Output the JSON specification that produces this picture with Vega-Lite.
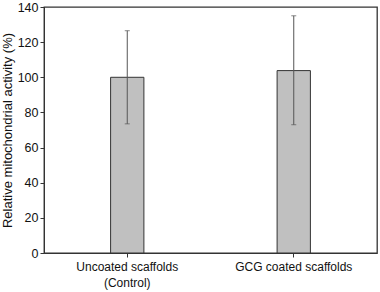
{
  "$schema": "https://vega.github.io/schema/vega-lite/v6.json",
  "width": 333,
  "height": 246,
  "autosize": {"type": "none"},
  "padding": {"left": 44, "top": 7, "right": 3, "bottom": 39},
  "background": "white",
  "config": {
    "view": {"stroke": "#333", "strokeWidth": 1.3},
    "font": "Liberation Sans",
    "axis": {"grid": false, "domainColor": "#333", "tickColor": "#333", "labelColor": "#111", "titleColor": "#111", "labelFont": "Liberation Sans", "titleFont": "Liberation Sans"},
    "axisY": {
      "titleFontSize": 13,
      "titleFontWeight": "normal",
      "titlePadding": 3,
      "labelFontSize": 12.5,
      "labelPadding": 2,
      "labelOverlap": false,
      "labelFlush": false,
      "labelBound": false,
      "values": [0, 10, 20, 30, 40, 50, 60, 70, 80, 90, 100, 110, 120, 130, 140],
      "labelExpr": "datum.value % 20 == 0 ? datum.label : ''",
      "tickSize": {"condition": {"test": "datum.value % 20 != 0", "value": 2}, "value": 4}
    }
  },
  "data": {
    "values": [
      {"group": "Uncoated scaffolds", "mean": 100, "low": 73.5, "high": 126.5},
      {"group": "GCG coated scaffolds", "mean": 103.8, "low": 73, "high": 135}
    ]
  },
  "encoding": {
    "x": {
      "field": "group",
      "type": "nominal",
      "sort": null,
      "scale": {"paddingInner": 0, "paddingOuter": 0},
      "axis": {
        "title": null,
        "labelAngle": 0,
        "labelFontSize": 12,
        "labelPadding": 4,
        "labelLineHeight": 16,
        "tickSize": 4,
        "labelExpr": "datum.value == 'Uncoated scaffolds' ? ['Uncoated scaffolds', '(Control)'] : datum.value"
      }
    }
  },
  "layer": [
    {
      "mark": {"type": "bar", "width": {"band": 0.2}, "fill": "#c0c0c0", "stroke": "#333", "strokeWidth": 1},
      "encoding": {
        "y": {
          "field": "mean",
          "type": "quantitative",
          "scale": {"domain": [0, 140], "nice": false},
          "title": "Relative mitochondrial activity (%)"
        }
      }
    },
    {
      "mark": {"type": "rule", "color": "#555", "strokeWidth": 1},
      "encoding": {
        "y": {"field": "low", "type": "quantitative"},
        "y2": {"field": "high"}
      }
    },
    {
      "mark": {"type": "tick", "color": "#555", "size": 5, "thickness": 1},
      "encoding": {"y": {"field": "low", "type": "quantitative"}}
    },
    {
      "mark": {"type": "tick", "color": "#555", "size": 5, "thickness": 1},
      "encoding": {"y": {"field": "high", "type": "quantitative"}}
    }
  ]
}
